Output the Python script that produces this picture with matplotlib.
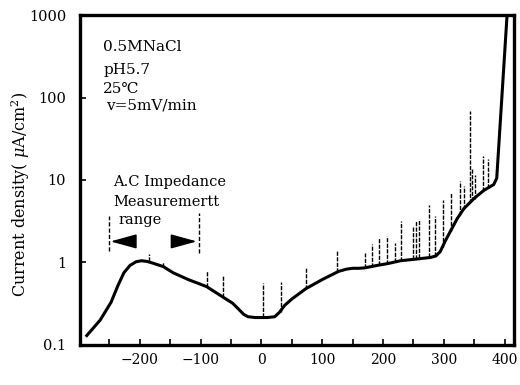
import matplotlib
matplotlib.use("Agg")
import matplotlib.pyplot as plt
from matplotlib.ticker import FixedLocator, NullFormatter, NullLocator

# polarization curve, potential (mV) vs current density (uA/cm2)
potential = [-287, -265, -247, -236, -226, -216, -206, -197, -188, -178, -161, -145,
             -120, -90, -63, -47, -37, -29, -22, -10, 10, 22, 30, 38, 50, 73, 100,
             127, 140, 150, 160, 170, 190, 208, 229, 255, 278, 287, 294, 302, 311,
             322, 333, 350, 366, 375, 382, 387, 404]
current = [0.13, 0.2, 0.33, 0.52, 0.75, 0.92, 1.02, 1.05, 1.03, 0.98, 0.89, 0.75,
           0.62, 0.51, 0.38, 0.32, 0.27, 0.235, 0.22, 0.215, 0.215, 0.22, 0.25,
           0.3, 0.36, 0.48, 0.62, 0.78, 0.83, 0.85, 0.85, 0.86, 0.92, 0.97, 1.05,
           1.1, 1.15, 1.2, 1.35, 1.8, 2.4, 3.4, 4.5, 6.0, 7.5, 8.2, 8.8, 10.5, 1000]

# current transients (spikes): position, base, top
spike_x = [-185, -161, -90, -63, 2, 33, 73, 125, 170, 182, 193, 207, 219, 229,
           249, 255, 260, 275, 286, 299, 311, 327, 333, 343, 346, 351, 364, 372]
spike_lo = [1.03, 0.88, 0.51, 0.38, 0.22, 0.25, 0.48, 0.77, 0.85, 0.88, 0.93, 0.97,
            1.0, 1.05, 1.1, 1.1, 1.12, 1.15, 1.2, 1.55, 2.4, 3.8, 4.5, 5.3, 5.5,
            5.9, 7.3, 8.0]
spike_hi = [1.25, 1.02, 0.78, 0.71, 0.57, 0.58, 0.87, 1.4, 1.3, 1.66, 2.0, 2.07,
            1.7, 3.2, 2.75, 3.2, 3.4, 5.0, 3.7, 5.7, 6.9, 9.7, 8.5, 69, 14, 11.5,
            19.6, 18]

# A.C impedance measurement range
range_lo, range_hi = -251, -103

serif = ["DejaVu Serif", "DejaVu Sans"]
plt.rcParams["font.family"] = serif
plt.rcParams["mathtext.fontset"] = "dejavuserif"

fig = plt.figure(figsize=(5.2, 3.85), dpi=100)
ax = fig.add_axes([0.154, 0.104, 0.834, 0.857])

ax.vlines(spike_x, spike_lo, spike_hi, colors="k", linewidth=1.0,
          linestyles=(0, (3, 1)))
ax.plot(potential, current, color="k", linewidth=2.2, solid_joinstyle="round")

# range bracket
ax.vlines([range_lo, range_hi], [1.36, 1.29], [3.7, 3.96], colors="k",
          linewidth=1.0, linestyles=(0, (3, 1.5)))
arrow = dict(arrowstyle="-|>,head_length=0.8,head_width=0.22", mutation_scale=20,
             color="k", lw=1.2, shrinkA=0, shrinkB=0)
ax.annotate("", xy=(range_lo + 3, 1.8), xytext=(range_lo + 28, 1.8), arrowprops=arrow)
ax.annotate("", xy=(range_hi - 3, 1.8), xytext=(range_hi - 30, 1.8), arrowprops=arrow)

ax.set_yscale("log")
ax.set_xlim(-298, 415)
ax.set_ylim(0.1, 1000)

ax.xaxis.set_major_locator(FixedLocator([-300, -200, -100, 0, 100, 200, 300, 400]))
ax.xaxis.set_minor_locator(FixedLocator([-250, -150, -50, 50, 150, 250, 350]))
ax.yaxis.set_major_locator(FixedLocator([0.1, 1, 10, 100, 1000]))
ax.yaxis.set_minor_locator(NullLocator())
ax.yaxis.set_minor_formatter(NullFormatter())
ax.set_yticklabels(["0.1", "1", "10", "100", "1000"])
ax.tick_params(axis="both", which="both", direction="in", length=4, width=1.2,
               labelsize=10.5)
ax.tick_params(axis="x", labelsize=10, pad=6)
ax.tick_params(axis="y", pad=10)

for s in ax.spines.values():
    s.set_linewidth(2.4)

ax.set_ylabel("Current density( $\\mu$A/cm$^2$)", fontsize=11.5)
ax.yaxis.set_label_coords(-0.111, 0.458)

tf = ax.transAxes
ax.text(0.053, 0.903, "0.5MNaCl", transform=tf, fontsize=11, va="center")
ax.text(0.053, 0.833, "pH5.7", transform=tf, fontsize=11, va="center")
ax.text(0.053, 0.776, "25\u2103", transform=tf, fontsize=11, va="center")
ax.text(0.060, 0.727, "v=5mV/min", transform=tf, fontsize=11, va="center")
ax.text(0.076, 0.494, "A.C Impedance", transform=tf, fontsize=10.5, va="center")
ax.text(0.076, 0.433, "Measuremertt", transform=tf, fontsize=10.5, va="center")
ax.text(0.088, 0.379, "range", transform=tf, fontsize=10.5, va="center")

fig.savefig("out.png", dpi=100)
